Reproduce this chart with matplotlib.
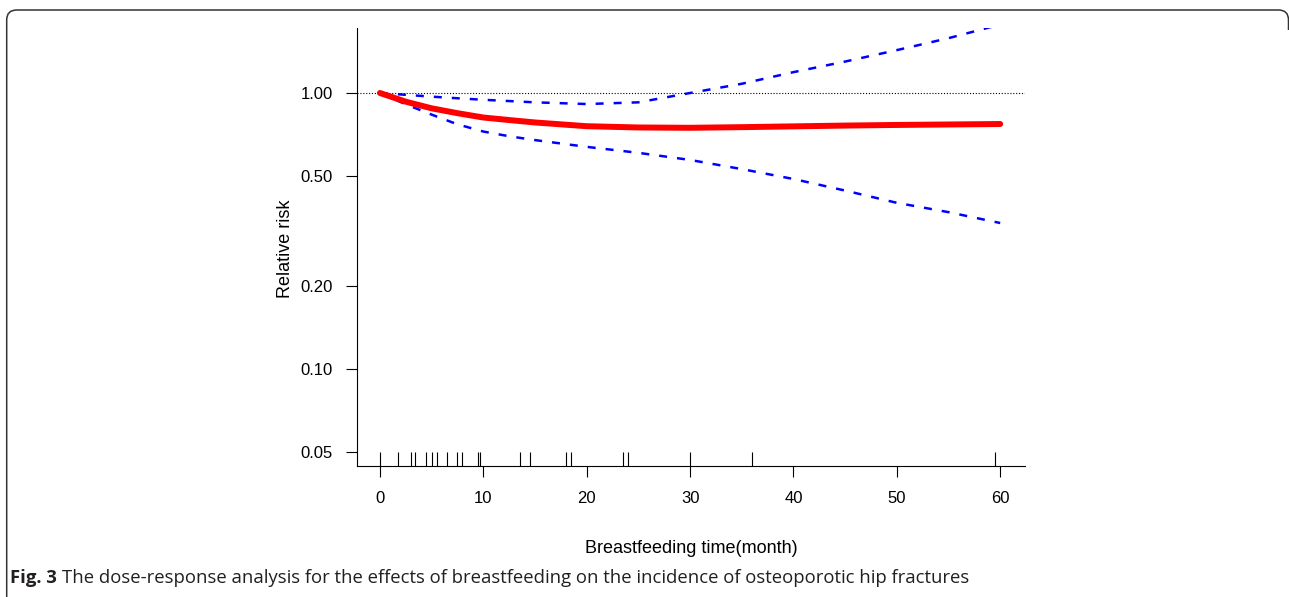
import matplotlib
matplotlib.use('Agg')
import matplotlib.pyplot as plt
from matplotlib.path import Path
from matplotlib.patches import PathPatch

plt.rcParams['font.family'] = ['Liberation Sans', 'DejaVu Sans']

# values
months = [0, 2.5, 5, 7.5, 10, 12.5, 15, 20, 25, 30, 35, 40, 45, 50, 55, 60]
rr = [1.0, 0.93, 0.88, 0.845, 0.815, 0.798, 0.782, 0.758, 0.75, 0.748,
      0.752, 0.757, 0.762, 0.766, 0.769, 0.772]
rr_upper = [1.0, 0.985, 0.97, 0.957, 0.945, 0.935, 0.925, 0.912, 0.925, 1.0,
            1.08, 1.19, 1.30, 1.43, 1.58, 1.77]
rr_lower = [1.0, 0.91, 0.835, 0.77, 0.725, 0.697, 0.675, 0.638, 0.607, 0.572,
            0.53, 0.488, 0.443, 0.40, 0.37, 0.338]
rug_months = [0, 1.7, 3.0, 3.4, 4.5, 5.0, 5.5, 6.5, 7.5, 7.9, 9.5, 9.7,
              13.5, 14.5, 18.0, 18.5, 23.5, 24.0, 30, 36, 59.5]
x_ticks = [0, 10, 20, 30, 40, 50, 60]
y_ticks = [0.05, 0.10, 0.20, 0.50, 1.00]
y_tick_labels = ['0.05', '0.10', '0.20', '0.50', '1.00']

W, H = 1289, 597
fig = plt.figure(figsize=(W / 100, H / 100), dpi=100)

# page frame with rounded top corners
frame = fig.add_axes([0, 0, 1, 1], zorder=-1)
frame.set_xlim(0, W)
frame.set_ylim(H, 0)
frame.axis('off')
verts = [(6.7, H), (6.7, 20), (6.7, 10), (16.7, 10), (1278.5, 10),
         (1288.5, 10), (1288.5, 20), (1288.5, 30)]
codes = [Path.MOVETO, Path.LINETO, Path.CURVE3, Path.CURVE3, Path.LINETO,
         Path.CURVE3, Path.CURVE3, Path.LINETO]
frame.add_patch(PathPatch(Path(verts, codes), fill=False, lw=1.1, ec='#333333'))

ax = fig.add_axes([357 / W, 1 - 466 / H, 668 / W, 438 / H])
ax.set_yscale('log')
ax.set_xlim(-2.22, 62.4)
ax.set_ylim(0.0445, 1.72)

ax.axhline(1.0, color='black', lw=0.8, linestyle=(0, (1, 1.6)))
ax.plot(months, rr_upper, color='#0000ff', lw=1.8, dashes=(3.2, 4))
ax.plot(months, rr_lower, color='#0000ff', lw=1.8, dashes=(3.2, 4))
ax.plot(months, rr, color='#ff0000', lw=4.3, solid_capstyle='round')
ax.vlines(rug_months, 0, 0.032, transform=ax.get_xaxis_transform(),
          color='black', lw=0.8)

for s in ['top', 'right']:
    ax.spines[s].set_visible(False)
for s in ['left', 'bottom']:
    ax.spines[s].set_linewidth(0.8)

ax.set_xticks(x_ticks)
ax.set_yticks(y_ticks)
ax.set_yticklabels(y_tick_labels)
ax.minorticks_off()
ax.tick_params(axis='both', length=7.7, width=0.8, labelsize=12, color='black')
ax.tick_params(axis='y', pad=9.5)
ax.tick_params(axis='x', pad=10)

ax.set_xlabel('Breastfeeding time(month)', fontsize=13)
ax.set_ylabel('Relative risk', fontsize=13)
ax.xaxis.set_label_coords(0.5, -0.169)
ax.yaxis.set_label_coords(-0.094, 0.495)

# caption: bold "Fig. 3" followed by regular text
cap_y = 1 - 578 / H
cap_font = ['Open Sans', 'DejaVu Sans']
bold = fig.text(10 / W, cap_y, 'Fig. 3', fontsize=13.3, fontweight='bold',
                family=cap_font, va='center', color='#231f20')
fig.canvas.draw()
bb = bold.get_window_extent()
fig.text(bb.x1 / W + 5 / W, cap_y,
         'The dose-response analysis for the effects of breastfeeding on the incidence of osteoporotic hip fractures',
         fontsize=13.3, family=cap_font, va='center', color='#231f20')

fig.savefig('out.png', dpi=100)
